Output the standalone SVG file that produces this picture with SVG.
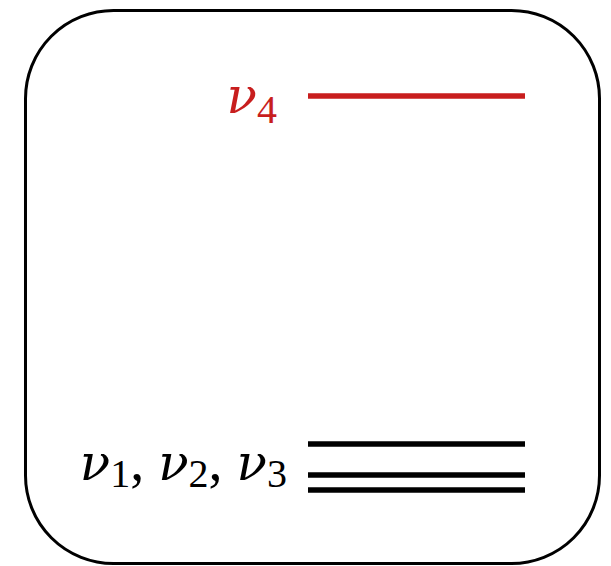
<svg xmlns="http://www.w3.org/2000/svg" width="611" height="566" viewBox="0 0 611 566">
<style>
.lvl{stroke-width:5.5;fill:none}
.lbl{font-family:"Liberation Serif","DejaVu Serif",serif;font-size:56px}
.nu{font-family:"DejaVu Serif",serif;font-style:italic;font-size:50px}
.sub{font-size:40px}
</style>
<rect x="0" y="0" width="611" height="566" fill="#fff"/>
<g id="box">
<rect x="25.5" y="10.5" width="574" height="553" rx="88" ry="88" fill="none" stroke="#000" stroke-width="3"/>
</g>
<g id="nu4">
<line class="lvl" x1="308" y1="96" x2="525" y2="96" stroke="#c81e1e"/>
<text class="lbl" x="277" y="113" text-anchor="end" fill="#c81e1e"><tspan class="nu">ν</tspan><tspan class="sub" dy="10">4</tspan></text>
</g>
<g id="nu123">
<line class="lvl" x1="308" y1="444" x2="525" y2="444" stroke="#000"/>
<line class="lvl" x1="308" y1="475" x2="525" y2="475" stroke="#000"/>
<line class="lvl" x1="308" y1="490" x2="525" y2="490" stroke="#000"/>
<text class="lbl" x="287" y="480" text-anchor="end" fill="#000"><tspan class="nu">ν</tspan><tspan class="sub" dy="7">1</tspan><tspan dy="-7">, </tspan><tspan class="nu">ν</tspan><tspan class="sub" dy="7">2</tspan><tspan dy="-7">, </tspan><tspan class="nu">ν</tspan><tspan class="sub" dy="7">3</tspan></text>
</g>
</svg>
